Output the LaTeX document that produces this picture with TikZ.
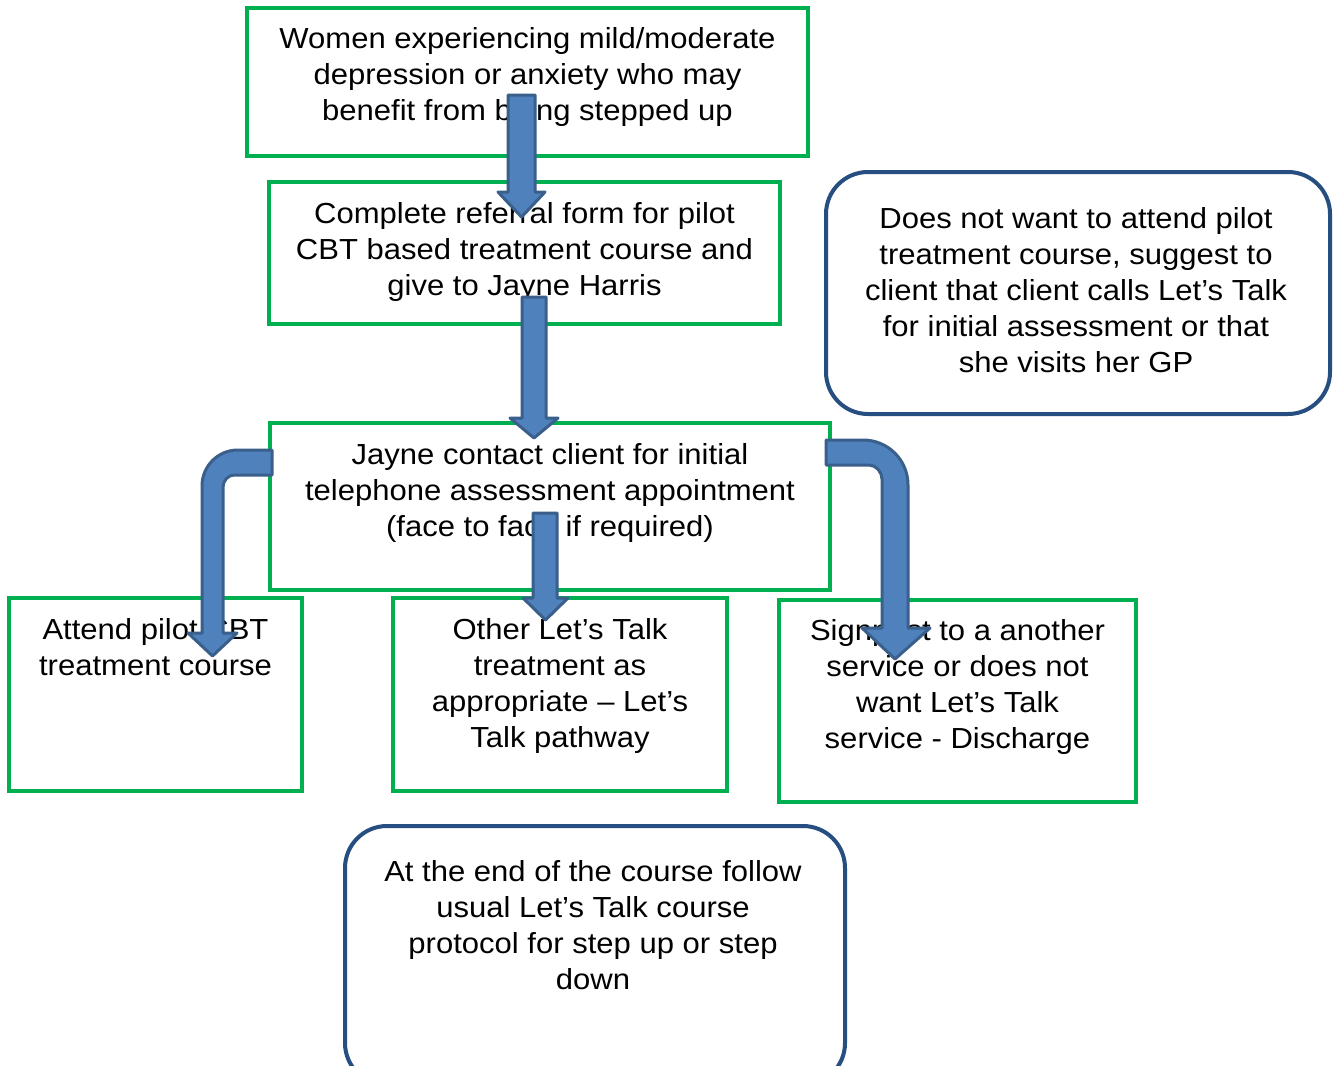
\documentclass[tikz,border=0pt]{standalone}
\usepackage{fontspec}
\setmainfont[FakeStretch=1.07]{Liberation Sans}
\definecolor{boxgreen}{RGB}{0,176,80}
\definecolor{boxblue}{RGB}{38,78,128}
\definecolor{arrfill}{RGB}{79,129,189}
\definecolor{arrline}{RGB}{58,95,139}
\newcommand\fstrut{\rule{0pt}{24pt}}
\tikzset{
  gbox/.style={draw=boxgreen, line width=4pt, inner sep=0pt, outer sep=0pt, anchor=north west},
  rbox/.style={draw=boxblue, line width=4pt, rounded corners=42pt, fill=white},
  txt/.style={inner sep=0pt, align=center, anchor=north, font={\fontsize{29}{36}\selectfont}},
  blockarrow/.style={fill=arrfill, draw=arrline, line width=3pt, line join=round}
}
\begin{document}
\begin{tikzpicture}[x=1pt,y=-1pt]
\clip (0,0) rectangle (1337,1065);
\fill[white] (0,0) rectangle (1337,1065);
% boxes
\node[gbox, minimum width=561pt, minimum height=148pt] (b1) at (247,8) {};
\node[gbox, minimum width=511pt, minimum height=142pt] (b2) at (269,182) {};
\node[gbox, minimum width=560pt, minimum height=167pt] (b3) at (270,423) {};
\node[gbox, minimum width=293pt, minimum height=193pt] (b4) at (9,598) {};
\node[gbox, minimum width=334pt, minimum height=193pt] (b5) at (393,598) {};
\node[gbox, minimum width=357pt, minimum height=202pt] (b6) at (779,600) {};
\draw[rbox] (826,172) rectangle (1330,414);
\coordinate (b7) at (1078,293);
\draw[rbox] (345,826) rectangle (845,1085);
\coordinate (b8) at (595,955);
% texts
\node[txt] (t1) at (527.5,24) {\fstrut Women experiencing mild/moderate\\depression or anxiety who may\\benefit from being stepped up};
\node[txt] (t2) at (524.5,199) {\fstrut Complete referral form for pilot\\CBT based treatment course and\\give to Jayne Harris};
\node[txt] (t3) at (550,440) {\fstrut Jayne contact client for initial\\telephone assessment appointment\\(face to face if required)};
\node[txt] (t4) at (155.5,615) {\fstrut Attend pilot CBT\\treatment course};
\node[txt] (t5) at (560,615) {\fstrut Other Let’s Talk\\treatment as\\appropriate – Let’s\\Talk pathway};
\node[txt] (t6) at (957.5,616) {\fstrut Signpost to a another\\service or does not\\want Let’s Talk\\service - Discharge};
\node[txt] (t7) at (1076,204) {\fstrut Does not want to attend pilot\\treatment course, suggest to\\client that client calls Let’s Talk\\for initial assessment or that\\she visits her GP};
\node[txt] (t8) at (593,857) {\fstrut At the end of the course follow\\usual Let’s Talk course\\protocol for step up or step\\down};
% block arrows
\draw[blockarrow] (508,95) -- (535,95) -- (535,192) -- (545,192) -- (521.5,217) -- (498,192) -- (508,192) -- cycle;
\draw[blockarrow] (522,297) -- (546,297) -- (546,418) -- (558,418) -- (534,438) -- (510,418) -- (522,418) -- cycle;
\draw[blockarrow] (533,513) -- (557,513) -- (557,598) -- (568,598) -- (545.5,620) -- (523,598) -- (533,598) -- cycle;
\draw[blockarrow] (272,450) -- (238,450) .. controls (218,450) and (202,466) .. (202,486) -- (202,633) -- (188,633) -- (212.5,656) -- (237,633) -- (223,633) -- (223,487) .. controls (223,481) and (228,475) .. (234,475) -- (272,475) -- cycle;
\draw[blockarrow] (826,440) -- (863,440) .. controls (888,440) and (908,460) .. (908,485) -- (908,628) -- (930,628) -- (895,659) -- (862,628) -- (882,628) -- (882,479) .. controls (882,472) and (876,465) .. (869,465) -- (826,465) -- cycle;
\end{tikzpicture}
\end{document}
